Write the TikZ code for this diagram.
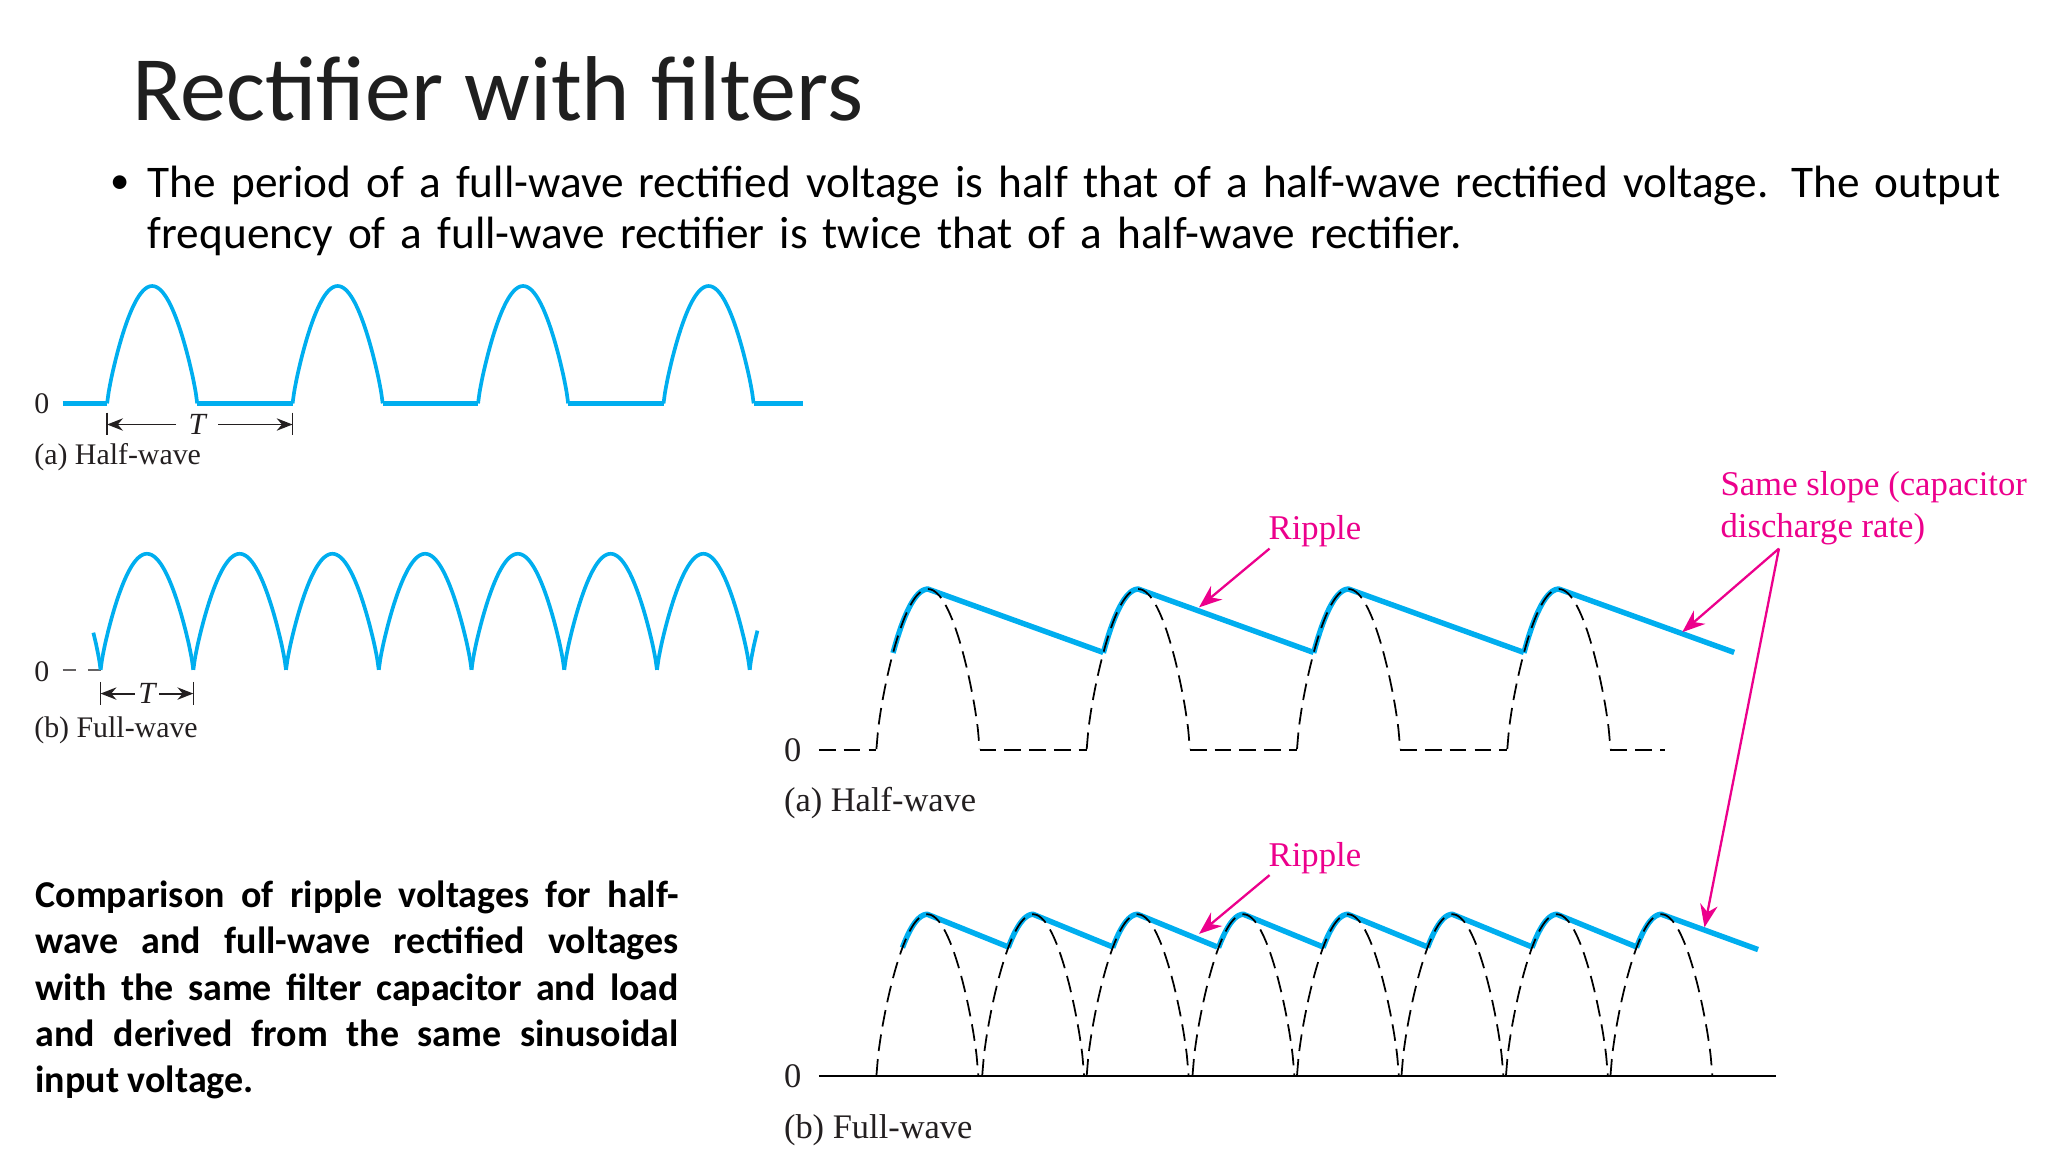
\documentclass[tikz,border=0pt]{standalone}
\usepackage{fontspec}
\setmainfont{Liberation Serif}
\newfontfamily\slidefont{Carlito}
\usetikzlibrary{calc, positioning, arrows.meta}
\definecolor{wavecyan}{RGB}{0,174,239}
\definecolor{notepink}{RGB}{236,0,140}
\definecolor{figink}{RGB}{35,31,32}
\tikzset{
  wave/.style={wavecyan, line width=2.1pt, line join=round},
  flatwave/.style={wavecyan, line width=2.5pt},
  capwave/.style={wavecyan, line width=3.1pt, line join=round},
  rawwave/.style={black, line width=1pt, dash pattern=on 9.5pt off 4.6pt},
  dimline/.style={figink, line width=1.1pt, -{Stealth[length=9pt,width=7pt]}},
  dimtick/.style={figink, line width=0.8pt},
  noteline/.style={notepink, line width=1.3pt, -{Stealth[length=13pt,width=10pt]}},
  leftlabel/.style={figink, font=\fontsize{17}{20}\selectfont, inner sep=0pt, anchor=west},
  rightlabel/.style={figink, font=\fontsize{19.6}{23}\selectfont, inner sep=0pt, anchor=west},
  notelabel/.style={notepink, font=\fontsize{19.75}{23}\selectfont, inner sep=0pt, anchor=west}
}

\begin{document}
\begin{tikzpicture}[x=0.026122cm, y=-0.026122cm]
  \useasboundingbox (0,0) rectangle (1568,882);

  % Slide text
  \node[inner sep=0pt, anchor=west, text=black!88, font=\slidefont\fontsize{52.4}{60}\selectfont] (title) at (101,68) {Rectifier with filters};
  \node[inner sep=0pt, anchor=west, font=\slidefont\fontsize{22}{30}\selectfont] (bullet) at (84,141) {•};
  \node[inner sep=0pt, anchor=north west, text width=1440, font=\slidefont\fontsize{25.76}{29}\selectfont, align=left] (intro) at (113,127)
    {The period of a full-wave rectified voltage is half that of a half-wave rectified voltage. The output\\
     frequency of a full-wave rectifier is twice that of a half-wave rectifier.};
  \node[inner sep=0pt, anchor=north west, text width=366pt, font=\slidefont\bfseries\fontsize{21.6}{26.4}\selectfont, align=justify] (caption) at (27,674)
    {Comparison of ripple voltages for half-\linebreak wave and full-wave rectified voltages\linebreak
     with the same filter capacitor and load\linebreak and derived from the same sinusoidal\linebreak input voltage.};

  % Left: half-wave
  \foreach \xa/\xb in {48/82, 151/224, 293/366, 435/508, 577/615}
    \draw[flatwave] (\xa,309) -- (\xb,309);
  \foreach \xa in {82, 224, 366, 508}
    \draw[wave] plot[domain=0.02:179.98, samples=61, smooth] ({\xa+\x*69/180},{309-90*pow(sin(\x),0.8)});
  \node[leftlabel] (zeroa) at (26,309) {0};
  \node[leftlabel, font=\itshape\fontsize{17.5}{20}\selectfont, anchor=center, inner xsep=7pt] (perioda) at (151,325) {T};
  \coordinate (periodal) at (82,325);
  \coordinate (periodar) at (224,325);
  \draw[dimline] (perioda) -- (periodal);
  \draw[dimline] (perioda) -- (periodar);
  \draw[dimtick] (82,316) -- (82,333);
  \draw[dimtick] (224,316) -- (224,333);
  \node[leftlabel] (labelleftA) at (26,350) {(a) Half-wave};

  % Left: full-wave
  \draw[figink!70, line width=0.9pt, dash pattern=on 7.4pt off 7pt] (48,513) -- (77,513);
  \draw[wave] plot[domain=166:179.98, samples=9, smooth] ({6+\x*71/180},{513-89*pow(sin(\x),0.8)});
  \foreach \xa in {77, 148, 219, 290, 361, 432, 503}
    \draw[wave] plot[domain=0.02:179.98, samples=61, smooth] ({\xa+\x*71/180},{513-89*pow(sin(\x),0.8)});
  \draw[wave] plot[domain=0.02:15, samples=9, smooth] ({574+\x*71/180},{513-89*pow(sin(\x),0.8)});
  \node[leftlabel] (zerob) at (26,514) {0};
  \node[leftlabel, font=\itshape\fontsize{17.5}{20}\selectfont, anchor=center, inner xsep=2pt] (periodb) at (112.5,531) {T};
  \coordinate (periodbl) at (77,531);
  \coordinate (periodbr) at (148,531);
  \draw[dimline] (periodb) -- (periodbl);
  \draw[dimline] (periodb) -- (periodbr);
  \draw[dimtick] (77,522) -- (77,540);
  \draw[dimtick] (148,522) -- (148,540);
  \node[leftlabel] (labelleftB) at (26,559) {(b) Full-wave};

  % Right: half-wave with capacitor
  \foreach \xa in {671, 832, 993, 1154}
    \draw[capwave] plot[domain=29:90, samples=21, smooth] ({\xa+\x*79/180},{574-123*pow(sin(\x),0.7)}) -- ({\xa+173.7},499.5);
  \foreach \xa/\xb in {627/671, 750/832, 911/993, 1072/1154, 1233/1275}
    \draw[rawwave] (\xa,574) -- (\xb,574);
  \foreach \xa in {671, 832, 993, 1154}
    \draw[rawwave] plot[domain=0.02:179.98, samples=61, smooth] ({\xa+\x*79/180},{574-123*pow(sin(\x),0.7)});
  \node[rightlabel] (zeroc) at (600,574) {0};
  \node[rightlabel] (labelrightA) at (600,615) {(a) Half-wave};

  % Right: full-wave with capacitor
  \draw[black, line width=1.3pt] (627,824) -- (1360,824);
  \foreach \xa/\xe in {671/772, 752/852, 832/932, 913/1013, 993/1093, 1073/1173, 1153/1253, 1233/1346}
    \draw[capwave] plot[domain=46:90, samples=15, smooth] ({\xa+\x*78/180},{824-124*pow(sin(\x),0.7)}) -- (\xe,{\xe==1346 ? 727 : 725});
  \foreach \xa in {671, 752, 832, 913, 993, 1073, 1153, 1233}
    \draw[rawwave] plot[domain=0.02:179.98, samples=61, smooth] ({\xa+\x*78/180},{824-124*pow(sin(\x),0.7)});
  \node[rightlabel] (zerod) at (600,824) {0};
  \node[rightlabel] (labelrightB) at (600,865) {(b) Full-wave};

  % Notes
  \node[notelabel] (ripplea) at (971,407) {Ripple};
  \coordinate (ripplefroma) at (972,420);
  \coordinate (rippletipa) at (918,465);
  \draw[noteline] (ripplefroma) -- (rippletipa);
  \node[notelabel] (rippleb) at (971,657) {Ripple};
  \coordinate (ripplefromb) at (972,670);
  \coordinate (rippletipb) at (918,715);
  \draw[noteline] (ripplefromb) -- (rippletipb);
  \node[notelabel] (slopea) at (1317,373) {Same slope (capacitor};
  \node[notelabel] (slopeb) at (1317,405) {discharge rate)};
  \coordinate (slopefrom) at (1362,420);
  \coordinate (slopetipa) at (1288,484);
  \coordinate (slopetipb) at (1305,710);
  \draw[noteline] (slopefrom) -- (slopetipa);
  \draw[noteline] (slopefrom) -- (slopetipb);
\end{tikzpicture}
\end{document}
